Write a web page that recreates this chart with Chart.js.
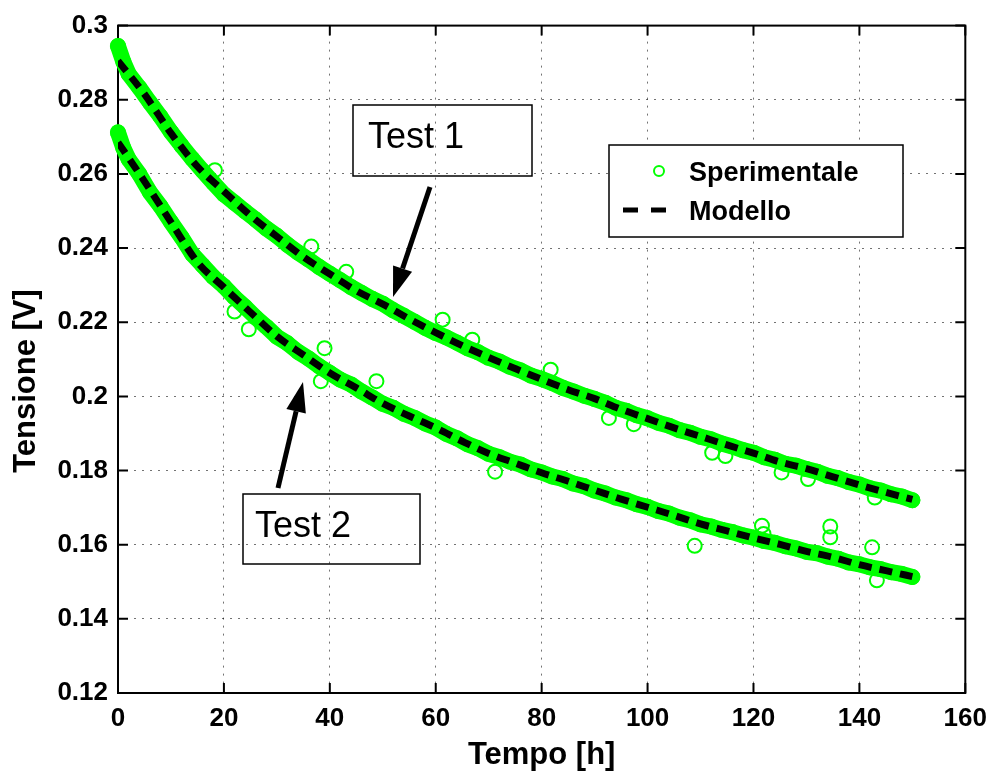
<!DOCTYPE html>
<html>
<head>
<meta charset="utf-8">
<script src="https://cdn.jsdelivr.net/npm/chart.js@4"></script>
<style>
  html, body { margin: 0; padding: 0; background: #fff; }
</style>
</head>
<body>
<canvas id="chart" width="997" height="771"></canvas>
<script>
// Model curves, one value every 5 h
const modelHours = [0, 5, 10, 15, 20, 25, 30, 35, 40, 45, 50, 55, 60, 65, 70, 75,
  80, 85, 90, 95, 100, 105, 110, 115, 120, 125, 130, 135, 140, 145, 150];
const modelTest1 = [0.2905, 0.2815, 0.2710, 0.2620, 0.2553, 0.2488, 0.2431, 0.2376,
  0.2330, 0.2285, 0.2249, 0.2209, 0.2172, 0.2137, 0.2105, 0.2075, 0.2046, 0.2018,
  0.1994, 0.1965, 0.1940, 0.1915, 0.1892, 0.1869, 0.1847, 0.1823, 0.1805, 0.1783,
  0.1761, 0.1741, 0.1722];
const modelTest2 = [0.2685, 0.2580, 0.2470, 0.2362, 0.2294, 0.2227, 0.2162, 0.2112,
  0.2063, 0.2023, 0.1981, 0.1947, 0.1915, 0.1879, 0.1846, 0.1820, 0.1794, 0.1771,
  0.1747, 0.1723, 0.1701, 0.1679, 0.1656, 0.1637, 0.1618, 0.1601, 0.1582, 0.1566,
  0.1546, 0.1530, 0.1514];

// Measured voltage
const expHours = [0, 1, 2, 4, 6, 8, 10, 12, 14, 16, 18, 20, 22, 24, 26, 28, 30, 32, 34,
  36, 38, 40, 42, 44, 46, 48, 50, 52, 54, 56, 58, 60, 62, 64, 66, 68, 70, 72, 74, 76,
  78, 80, 82, 84, 86, 88, 90, 92, 94, 96, 98, 100, 102, 104, 106, 108, 110, 112, 114,
  116, 118, 120, 122, 124, 126, 128, 130, 132, 134, 136, 138, 140, 142, 144, 146, 148, 150];
const expTest1 = [0.2945, 0.2903, 0.2870, 0.2833, 0.2793, 0.2755, 0.2713, 0.2676,
  0.2641, 0.2608, 0.2576, 0.2545, 0.2522, 0.2499, 0.2477, 0.2453, 0.2433, 0.2409,
  0.2388, 0.2369, 0.2349, 0.2331, 0.2313, 0.2295, 0.2279, 0.2263, 0.2250, 0.2232,
  0.2217, 0.2201, 0.2185, 0.2171, 0.2159, 0.2145, 0.2130, 0.2119, 0.2104, 0.2094,
  0.2080, 0.2070, 0.2056, 0.2047, 0.2036, 0.2023, 0.2013, 0.2002, 0.1993, 0.1983,
  0.1969, 0.1961, 0.1949, 0.1941, 0.1929, 0.1921, 0.1909, 0.1902, 0.1891, 0.1884,
  0.1873, 0.1865, 0.1855, 0.1848, 0.1836, 0.1829, 0.1818, 0.1813, 0.1804, 0.1797,
  0.1786, 0.1779, 0.1769, 0.1762, 0.1752, 0.1746, 0.1736, 0.1730, 0.1720];
const expTest2 = [0.2712, 0.2670, 0.2640, 0.2600, 0.2551, 0.2513, 0.2470, 0.2429,
  0.2384, 0.2353, 0.2322, 0.2297, 0.2267, 0.2241, 0.2213, 0.2188, 0.2161, 0.2143,
  0.2120, 0.2102, 0.2081, 0.2063, 0.2045, 0.2032, 0.2013, 0.1997, 0.1980, 0.1969,
  0.1953, 0.1942, 0.1927, 0.1916, 0.1899, 0.1887, 0.1871, 0.1860, 0.1845, 0.1836,
  0.1824, 0.1816, 0.1803, 0.1795, 0.1784, 0.1777, 0.1765, 0.1758, 0.1746, 0.1738,
  0.1727, 0.1720, 0.1709, 0.1702, 0.1691, 0.1684, 0.1673, 0.1666, 0.1655, 0.1649,
  0.1640, 0.1634, 0.1625, 0.1619, 0.1610, 0.1605, 0.1596, 0.1590, 0.1581, 0.1577,
  0.1568, 0.1562, 0.1552, 0.1547, 0.1539, 0.1534, 0.1526, 0.1521, 0.1513];

// Scattered samples away from the main traces (both tests)
const strayHours = [18.3, 22.0, 24.7, 36.5, 38.3, 39.0, 43.1, 48.8, 61.3, 66.9, 71.2,
  81.7, 92.7, 97.4, 108.9, 112.2, 114.7, 121.6, 121.9, 125.3, 130.3, 134.5, 134.5,
  142.4, 142.9, 143.3];
const strayVolts = [0.2610, 0.2229, 0.2181, 0.2404, 0.2041, 0.2130, 0.2336, 0.2041,
  0.2207, 0.2153, 0.1797, 0.2072, 0.1942, 0.1925, 0.1597, 0.1848, 0.1839, 0.1651,
  0.1629, 0.1795, 0.1777, 0.1649, 0.1620, 0.1593, 0.1727, 0.1504];

const xTicks = [0, 20, 40, 60, 80, 100, 120, 140, 160];
const yMin = 0.12, yMax = 0.3, yStep = 0.02;

const GREEN = '#00ff00';
const FONT = '"Liberation Sans", Arial, sans-serif';

const toPoints = (xs, ys) => xs.map((x, i) => ({ x: x, y: ys[i] }));

const expStyle = {
  showLine: true,
  borderColor: GREEN,
  backgroundColor: 'rgba(0,0,0,0)',
  borderWidth: 16,
  borderJoinStyle: 'round',
  borderCapStyle: 'round',
  pointRadius: 7,
  pointBorderWidth: 2,
  pointBorderColor: GREEN,
  pointBackgroundColor: 'rgba(0,0,0,0)',
  pointStyle: 'circle',
  clip: false,
  order: 2,
};
const modelStyle = {
  showLine: true,
  borderColor: '#000',
  borderWidth: 7,
  borderDash: [13, 8],
  pointRadius: 0,
  cubicInterpolationMode: 'monotone',
  order: 0,
};

// frame, inward ticks, text boxes, arrows, legend and y title
const framePlugin = {
  id: 'frame',
  beforeDatasetsDraw(chart) {
    const { ctx, chartArea: a, scales } = chart;
    ctx.save();
    ctx.strokeStyle = '#000';
    ctx.lineWidth = 2;
    ctx.strokeRect(a.left, a.top, a.right - a.left, a.bottom - a.top);
    ctx.beginPath();
    scales.x.ticks.forEach(t => {
      const px = scales.x.getPixelForValue(t.value);
      ctx.moveTo(px, a.bottom); ctx.lineTo(px, a.bottom - 10);
      ctx.moveTo(px, a.top); ctx.lineTo(px, a.top + 10);
    });
    scales.y.ticks.forEach(t => {
      const py = scales.y.getPixelForValue(t.value);
      ctx.moveTo(a.left, py); ctx.lineTo(a.left + 10, py);
      ctx.moveTo(a.right, py); ctx.lineTo(a.right - 10, py);
    });
    ctx.stroke();
    ctx.restore();
  },
  afterDatasetsDraw(chart) {
    const { ctx } = chart;
    ctx.save();

    // Test labels
    ctx.strokeStyle = '#000';
    ctx.lineWidth = 1.5;
    ctx.strokeRect(353, 105, 179, 71);
    ctx.strokeRect(243, 494, 177, 70);
    ctx.fillStyle = '#000';
    ctx.font = '36px ' + FONT;
    ctx.textAlign = 'left';
    ctx.textBaseline = 'alphabetic';
    ctx.fillText('Test 1', 368, 148);
    ctx.fillText('Test 2', 255, 537);

    drawArrow(ctx, 430, 187, 393, 297);
    drawArrow(ctx, 278, 488, 303, 382);

    // legend
    const ds = chart.data.datasets;
    ctx.fillStyle = '#fff';
    ctx.fillRect(609, 145, 294, 92);
    ctx.strokeStyle = '#000';
    ctx.lineWidth = 1.5;
    ctx.strokeRect(609, 145, 294, 92);

    ctx.strokeStyle = GREEN;
    ctx.lineWidth = 2;
    ctx.beginPath();
    ctx.arc(659, 171, 5, 0, Math.PI * 2);
    ctx.stroke();

    ctx.strokeStyle = '#000';
    ctx.lineWidth = 5;
    ctx.setLineDash([15, 13]);
    ctx.beginPath();
    ctx.moveTo(623, 210);
    ctx.lineTo(667, 210);
    ctx.stroke();
    ctx.setLineDash([]);

    ctx.fillStyle = '#000';
    ctx.font = 'bold 27px ' + FONT;
    ctx.fillText(ds[0].label, 689, 181);
    ctx.fillText(ds[2].label, 689, 220);

    // y axis title
    ctx.translate(35, 381);
    ctx.rotate(-Math.PI / 2);
    ctx.textAlign = 'center';
    ctx.font = 'bold 31px ' + FONT;
    ctx.fillText('Tensione [V]', 0, 0);
    ctx.restore();
  }
};

function drawArrow(ctx, x0, y0, x1, y1) {
  const ang = Math.atan2(y1 - y0, x1 - x0);
  const headLen = 30, headHalf = 10;
  const bx = x1 - headLen * Math.cos(ang), by = y1 - headLen * Math.sin(ang);
  ctx.save();
  ctx.strokeStyle = '#000';
  ctx.fillStyle = '#000';
  ctx.lineWidth = 5;
  ctx.beginPath();
  ctx.moveTo(x0, y0);
  ctx.lineTo(bx, by);
  ctx.stroke();
  ctx.beginPath();
  ctx.moveTo(x1, y1);
  ctx.lineTo(bx + headHalf * Math.sin(ang), by - headHalf * Math.cos(ang));
  ctx.lineTo(bx - headHalf * Math.sin(ang), by + headHalf * Math.cos(ang));
  ctx.closePath();
  ctx.fill();
  ctx.restore();
}

new Chart(document.getElementById('chart'), {
  type: 'scatter',
  data: {
    datasets: [
      Object.assign({ label: 'Sperimentale', data: toPoints(expHours, expTest1) }, expStyle),
      Object.assign({ label: 'Sperimentale', data: toPoints(expHours, expTest2) }, expStyle),
      Object.assign({ label: 'Modello', data: toPoints(modelHours, modelTest1) }, modelStyle),
      Object.assign({ label: 'Modello', data: toPoints(modelHours, modelTest2) }, modelStyle),
      Object.assign({}, expStyle, {
        label: 'Sperimentale',
        data: toPoints(strayHours, strayVolts),
        showLine: false,
        borderWidth: 2,
      }),
    ]
  },
  options: {
    responsive: false,
    animation: false,
    layout: { padding: { left: 0, right: 30, top: 23, bottom: 0 } },
    plugins: {
      legend: { display: false },
      tooltip: { enabled: false },
    },
    scales: {
      x: {
        type: 'linear',
        min: 0,
        max: 160,
        afterFit: (scale) => { scale.height = 78; },
        afterBuildTicks: (scale) => { scale.ticks = xTicks.map(v => ({ value: v })); },
        grid: { color: 'rgba(0,0,0,0.55)', lineWidth: 1, drawTicks: false },
        border: { display: false, dash: [2, 6] },
        ticks: {
          padding: 10,
          color: '#000',
          font: { family: FONT, size: 26, weight: 'bold' },
          maxRotation: 0,
        },
        title: {
          display: true,
          text: 'Tempo [h]',
          color: '#000',
          font: { family: FONT, size: 31, weight: 'bold', lineHeight: 1 },
          padding: { top: 0, bottom: 0 },
        },
      },
      y: {
        type: 'linear',
        min: yMin,
        max: yMax,
        afterFit: (scale) => { scale.width = 118; },
        grid: { color: 'rgba(0,0,0,0.55)', lineWidth: 1, drawTicks: false },
        border: { display: false, dash: [2, 6] },
        ticks: {
          stepSize: yStep,
          padding: 10,
          color: '#000',
          font: { family: FONT, size: 26, weight: 'bold' },
          callback: (v) => String(+Number(v).toFixed(2)),
        },
      },
    },
  },
  plugins: [framePlugin],
});
</script>
</body>
</html>
